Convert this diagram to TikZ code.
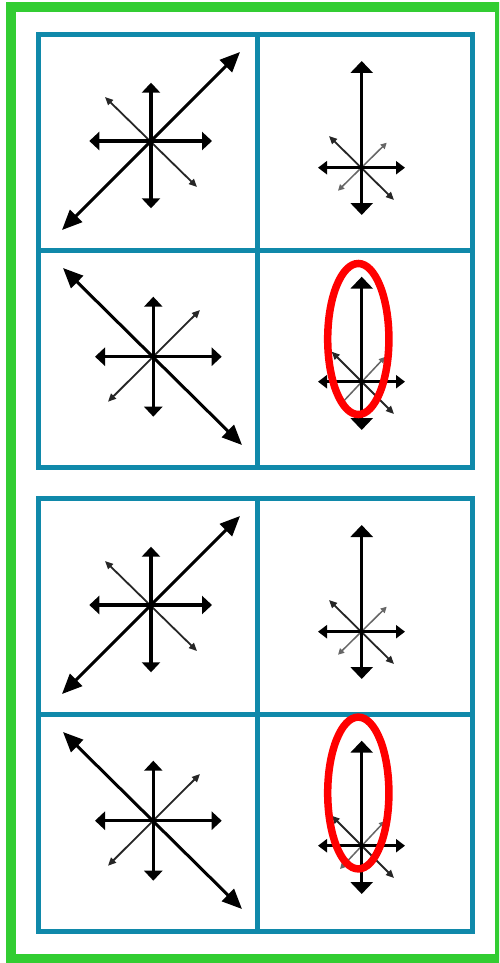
\documentclass[tikz,border=0pt]{standalone}
\usetikzlibrary{arrows.meta}
\definecolor{gridblue}{RGB}{16,137,170}
\definecolor{framegreen}{RGB}{50,205,50}
\tikzset{
  gridline/.style={draw=gridblue, line width=5pt},
  bigarr/.style={line width=3pt, {Triangle[length=20pt,width=17pt]}-{Triangle[length=20pt,width=17pt]}},
  axarr/.style={line width=3.2pt, {Triangle[length=10pt,width=18pt]}-{Triangle[length=10pt,width=18pt]}},
  tallarr/.style={line width=3.2pt, {Triangle[length=12pt,width=22pt]}-{Triangle[length=12pt,width=22pt]}},
  shortarr/.style={line width=2.6pt, {Triangle[length=9pt,width=13pt]}-{Triangle[length=9pt,width=13pt]}},
  thinarr/.style={line width=1.8pt, draw=black!85, fill=black!85, {Triangle[length=8pt,width=7pt]}-{Triangle[length=8pt,width=7pt]}},
  faintarr/.style={line width=1.5pt, draw=black!60, fill=black!60, {Triangle[length=6pt,width=6pt]}-{Triangle[length=6pt,width=6pt]}},
  ring/.style={draw=red, line width=7.5pt},
  panel/.pic={
    % grid
    \draw[gridline] (38.5,34.5) rectangle (472,467);
    \draw[gridline] (257,34.5) -- (257,467);
    \draw[gridline] (38.5,250.5) -- (472,250.5);
    % top-left cell
    \draw[thinarr] (105,97) -- (197,187);
    \draw[axarr] (151,82.7) -- (151,208.3);
    \draw[axarr] (89.3,141) -- (212,141);
    \draw[bigarr] (62,230) -- (240,52);
    % top-right cell
    \draw[faintarr] (386.7,142.7) -- (338,190.7);
    \draw[thinarr] (329,136) -- (394,200);
    \draw[shortarr] (318,167.7) -- (405,167.7);
    \draw[tallarr] (361.7,61) -- (361.7,215);
    % bottom-left cell
    \draw[thinarr] (200,310) -- (108,401.7);
    \draw[axarr] (153.3,296.7) -- (153.3,416.7);
    \draw[axarr] (95,356.7) -- (221.7,356.7);
    \draw[bigarr] (63,268) -- (242,445);
    % bottom-right cell
    \draw[faintarr] (385,357) -- (340,405);
    \draw[thinarr] (331.7,351.7) -- (394,414);
    \draw[shortarr] (318,381.7) -- (405,381.7);
    \draw[tallarr] (361.7,276.7) -- (361.7,430);
  }
}
\begin{document}
\begin{tikzpicture}[x=1pt,y=-1pt]
\useasboundingbox (0,0) rectangle (499,963);
\fill[white] (0,0) rectangle (499,963);
\begin{scope}
  \clip (0,0) rectangle (499,963);
  \draw[draw=framegreen, line width=10pt] (11,7) rectangle (500,959);
\end{scope}
\pic at (0,0) {panel};
\pic at (0,464) {panel};
\draw[ring] (358.3,339) ellipse [x radius=30.6, y radius=75.5];
\draw[ring] (358.3,793) ellipse [x radius=30.6, y radius=75.9];
\end{tikzpicture}
\end{document}
